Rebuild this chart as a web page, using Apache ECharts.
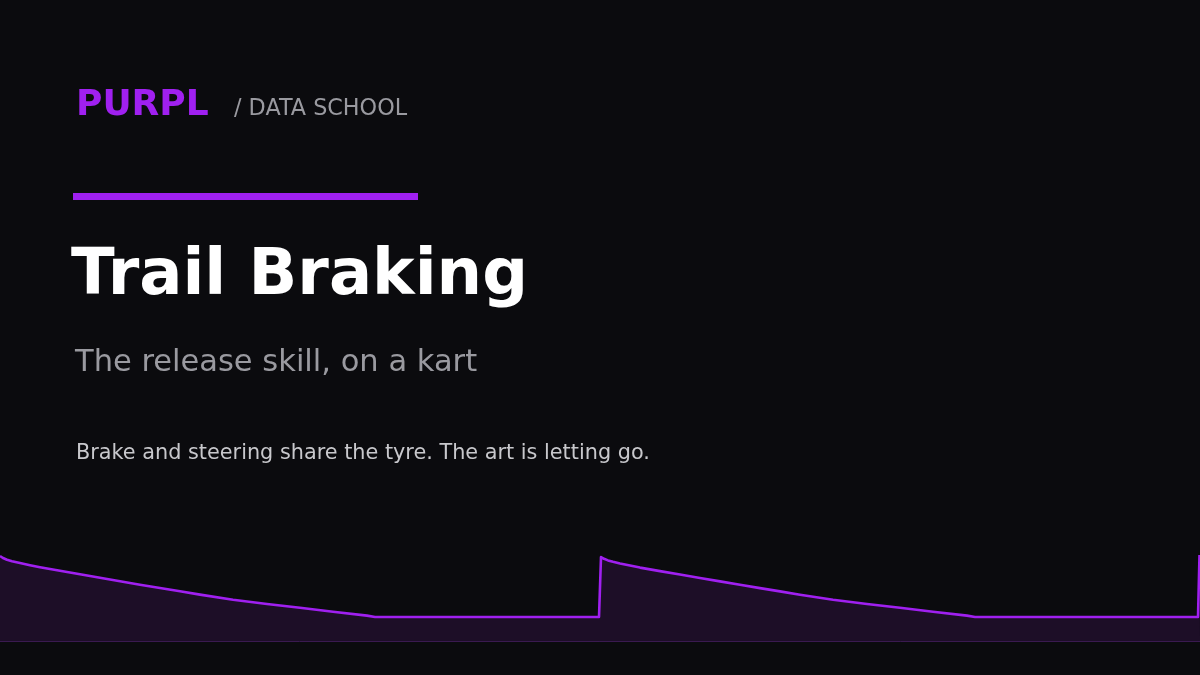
<!DOCTYPE html>
<html>
<head>
<meta charset="utf-8">
<script src="https://cdn.jsdelivr.net/npm/echarts@6/dist/echarts.min.js"></script>
<style>
html,body{margin:0;padding:0;background:#0b0b0e;}
#chart{width:1200px;height:675px;}
</style>
</head>
<body>
<div id="chart"></div>
<script>
// time (s) and brake pressure (%)
var timeSec = [0, 0.03, 0.07, 0.12, 0.2, 0.3, 0.4, 0.6, 0.8, 1.0, 1.2, 1.4, 1.6, 1.8, 2.0, 2.33, 2.67, 3.0, 3.33, 3.67, 3.75, 5.99,
               6.01, 6.04, 6.08, 6.13, 6.2, 6.3, 6.4, 6.6, 6.8, 7.0, 7.2, 7.4, 7.6, 7.8, 8.0, 8.33, 8.67, 9.0, 9.33, 9.67, 9.75, 11.98,
               11.995, 12.0];
var brakePct = [85, 83, 81.2, 79.8, 78, 75.8, 73.8, 70.2, 66.7, 63.2, 59.7, 56.3, 53, 49.7, 46.4, 41.3, 37, 33.2, 29.3, 25.4, 24, 24,
                84, 82.2, 80.6, 79.2, 77.5, 75.4, 73.4, 69.9, 66.5, 63, 59.6, 56.2, 52.9, 49.6, 46.3, 41.2, 37, 33.2, 29.3, 25.4, 24, 24,
                86, 86];
var brandName = 'PURPL';
var brandSub = '/ DATA SCHOOL';
var titleText = 'Trail Braking';
var subtitleText = 'The release skill, on a kart';
var bodyText = 'Brake and steering share the tyre. The art is letting go.';

var points = timeSec.map(function (t, i) { return [t, brakePct[i]]; });

var chart = echarts.init(document.getElementById('chart'));
var FONT = '"DejaVu Sans"';
chart.setOption({
  backgroundColor: '#0b0b0e',
  animation: false,
  grid: { left: 0, right: 0, top: 541, bottom: 34 },
  xAxis: {
    type: 'value', min: 0, max: 12,
    axisLine: { show: true, lineStyle: { color: '#3a1a50', width: 1 } },
    axisTick: { show: false }, axisLabel: { show: false }, splitLine: { show: false }
  },
  yAxis: {
    type: 'value', min: 0, max: 100,
    axisLine: { show: false }, axisTick: { show: false }, axisLabel: { show: false }, splitLine: { show: false }
  },
  series: [{
    type: 'line',
    data: points,
    showSymbol: false,
    smooth: false,
    lineStyle: { color: '#a020f0', width: 2.6, join: 'round' },
    areaStyle: { color: '#1d0e27', opacity: 1 },
    z: 3
  }],
  graphic: [
    { type: 'text', x: 76, y: 106, style: { text: brandName, fill: '#a020f0', font: 'bold 36px ' + FONT, verticalAlign: 'middle' } },
    { type: 'text', x: 234, y: 109.5, style: { text: brandSub, fill: '#9a9aa0', font: '22.3px ' + FONT, verticalAlign: 'middle' } },
    { type: 'rect', shape: { x: 73, y: 193, width: 345, height: 7 }, style: { fill: '#a020f0' } },
    { type: 'text', x: 71, y: 277, style: { text: titleText, fill: '#ffffff', font: 'bold 64px ' + FONT, verticalAlign: 'middle' } },
    { type: 'text', x: 75, y: 363.5, style: { text: subtitleText, fill: '#9a9aa0', font: '30.5px ' + FONT, verticalAlign: 'middle' } },
    { type: 'text', x: 76, y: 454, style: { text: bodyText, fill: '#c8c8cc', font: '20.8px ' + FONT, verticalAlign: 'middle' } }
  ]
});
</script>
</body>
</html>
